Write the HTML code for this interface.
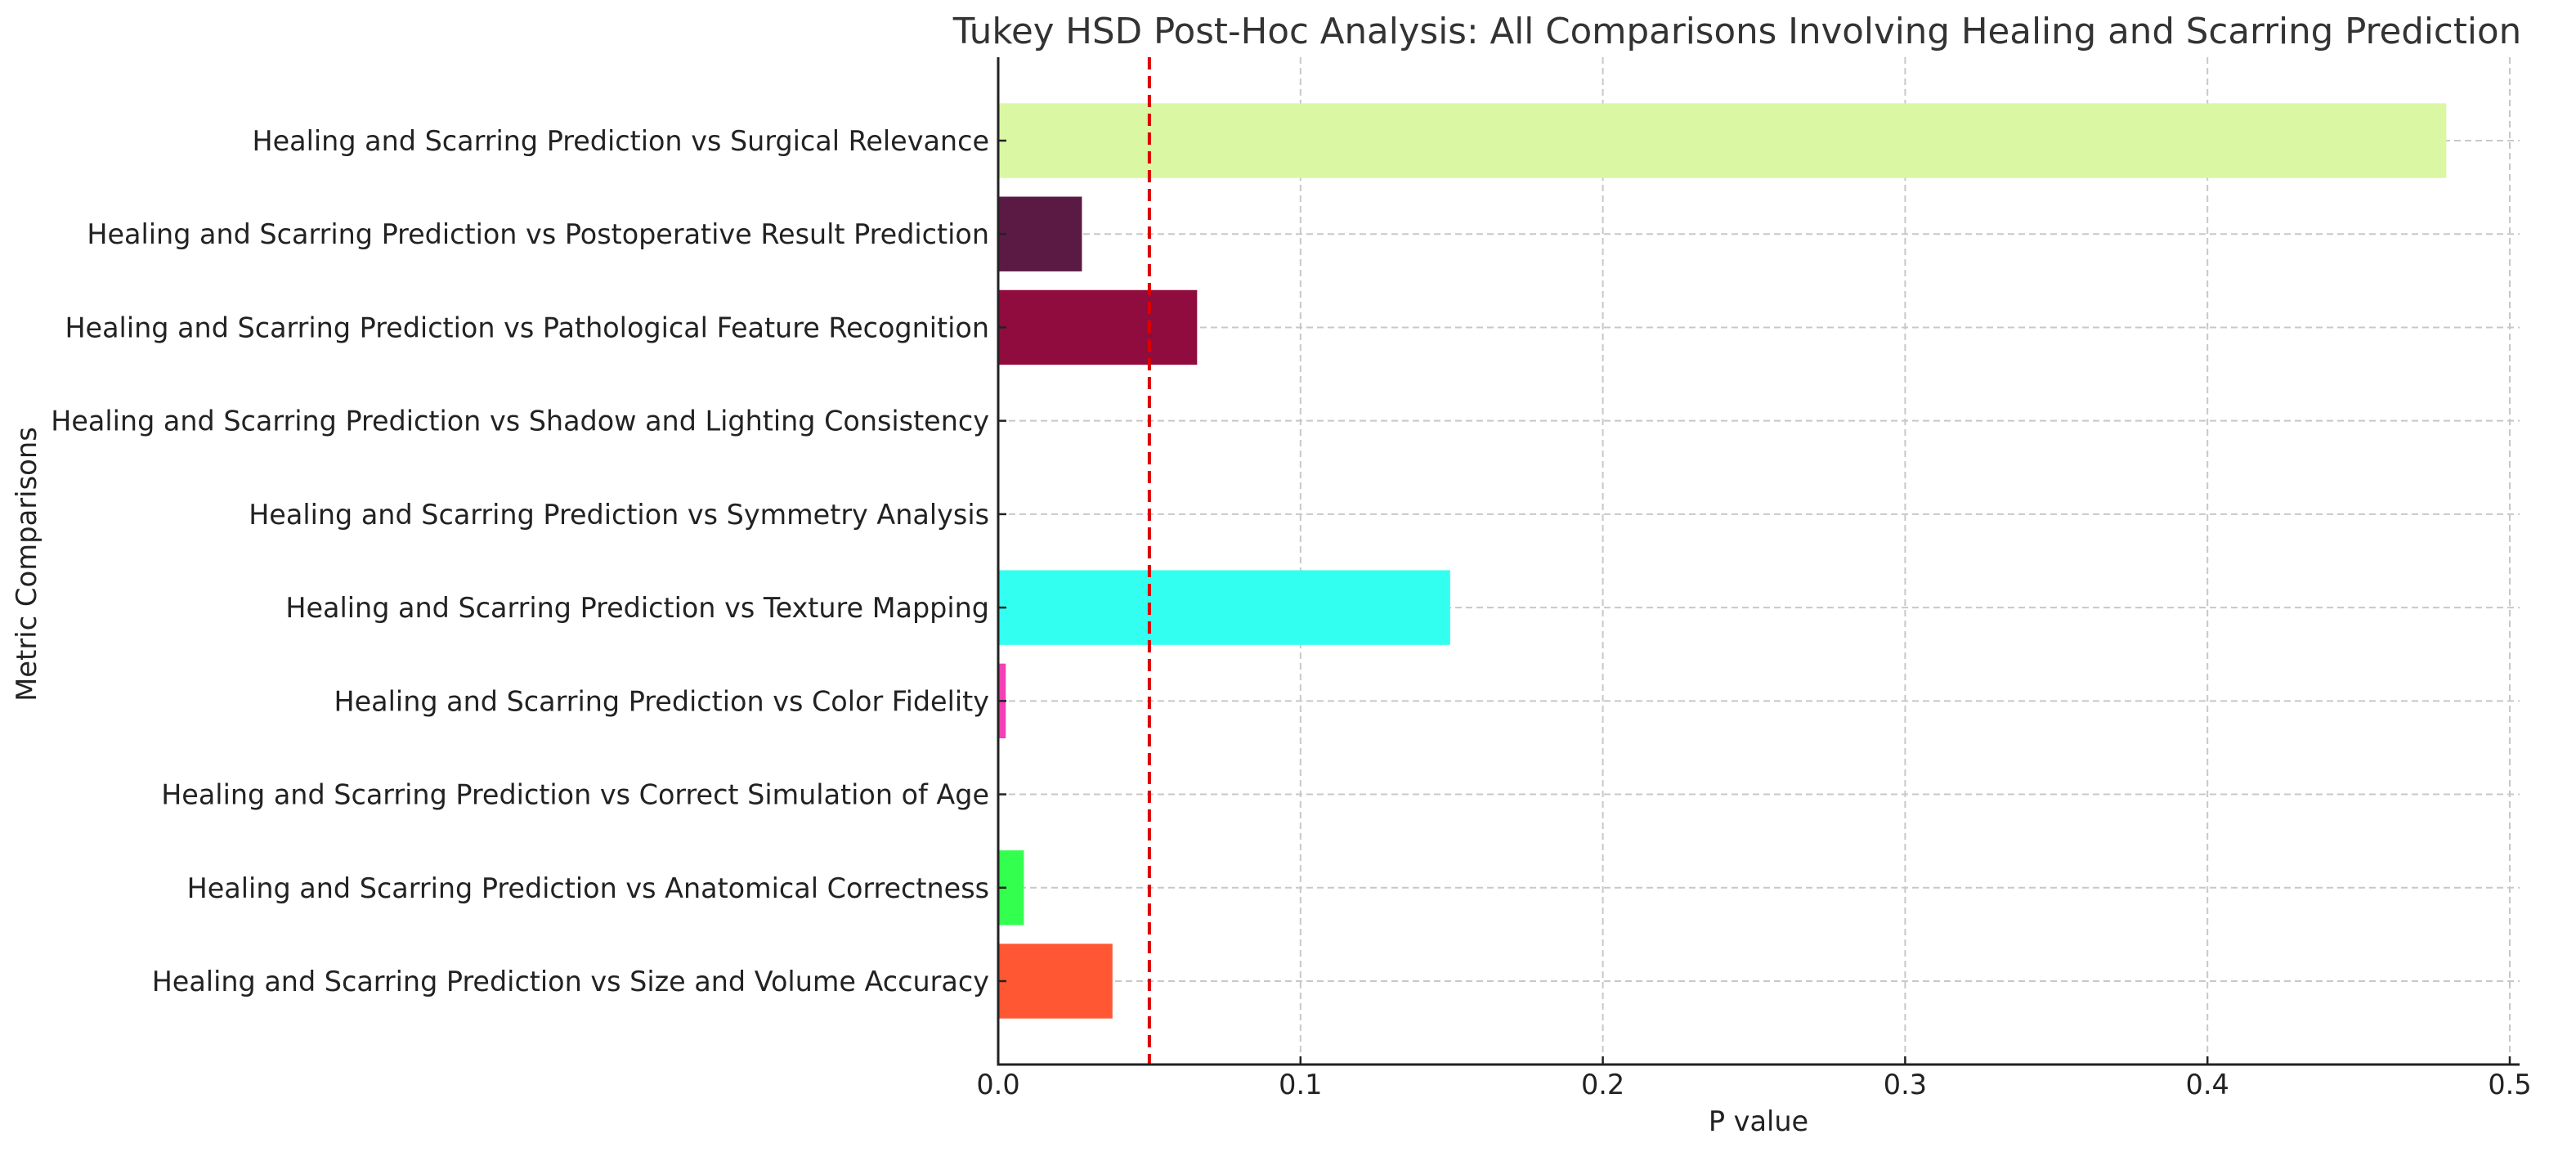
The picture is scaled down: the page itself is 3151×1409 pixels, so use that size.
<!DOCTYPE html>
<html><head><meta charset="utf-8"><style>
html,body{margin:0;padding:0;background:#fff;}
svg{display:block;font-family:"DejaVu Sans","Liberation Sans",sans-serif;}
</style></head><body>
<svg id="chart" width="3151" height="1409" viewBox="0 0 3151 1409" xmlns="http://www.w3.org/2000/svg">
<rect width="3151" height="1409" fill="#fff"/>
<text x="2125" y="53" font-size="43.5" fill="#333" text-anchor="middle">Tukey HSD Post-Hoc Analysis: All Comparisons Involving Healing and Scarring Prediction</text>
<text transform="translate(44,690) rotate(-90)" font-size="33.8" fill="#222" text-anchor="middle">Metric Comparisons</text>
<text x="2151" y="1383" font-size="33.5" fill="#222" text-anchor="middle">P value</text>
<g id="grid"></g>
<g id="bars"></g>
<g id="axes"></g>
</svg>
<script>
const categories = [
 "Healing and Scarring Prediction vs Surgical Relevance",
 "Healing and Scarring Prediction vs Postoperative Result Prediction",
 "Healing and Scarring Prediction vs Pathological Feature Recognition",
 "Healing and Scarring Prediction vs Shadow and Lighting Consistency",
 "Healing and Scarring Prediction vs Symmetry Analysis",
 "Healing and Scarring Prediction vs Texture Mapping",
 "Healing and Scarring Prediction vs Color Fidelity",
 "Healing and Scarring Prediction vs Correct Simulation of Age",
 "Healing and Scarring Prediction vs Anatomical Correctness",
 "Healing and Scarring Prediction vs Size and Volume Accuracy"
];
const pValues = [0.479, 0.0277, 0.0658, 0, 0, 0.1495, 0.0025, 0, 0.0085, 0.0378];
const barColors = ["#daf7a3","#5b1a44","#900c3f","#33fff0","#33ff57","#33fff0","#f53fb5","#ff33a8","#33ff4f","#ff5733"];
const xTicks = [0, 0.1, 0.2, 0.3, 0.4, 0.5];
const xTickLabels = ["0.0","0.1","0.2","0.3","0.4","0.5"];
const threshold = 0.05;

const NS = "http://www.w3.org/2000/svg";
const X0 = 1221, XPER = 3698, RIGHT = 3082, TOP = 70, BOTTOM = 1302;
const Y0 = 172, YSTEP = (1200 - 172) / 9, BARH = 0.8 * YSTEP;
function xs(v){ return X0 + v * XPER; }
function ys(i){ return Y0 + i * YSTEP; }
function mk(tag, attrs, parent){
  const e = document.createElementNS(NS, tag);
  for (const k in attrs) e.setAttribute(k, attrs[k]);
  parent.appendChild(e); return e;
}
const grid = document.getElementById('grid');
const bars = document.getElementById('bars');
const axes = document.getElementById('axes');

xTicks.forEach((t, i) => {
  const gl = mk('line', {x1: xs(t), x2: xs(t), y1: TOP, y2: BOTTOM, stroke: '#c8c8c8', 'stroke-width': 2, 'stroke-dasharray': '8,5'}, grid);
  
  
  const tk = mk('line', {x1: xs(t), x2: xs(t), y1: BOTTOM, y2: BOTTOM - 10, stroke: '#222', 'stroke-width': 2.5}, axes);
  
  
  const tl = mk('text', {x: xs(t), y: 1338, 'font-size': 33.5, fill: '#222', 'text-anchor': 'middle'}, axes);
  tl.textContent = xTickLabels[i];
  
  
});

categories.forEach((c, i) => {
  const y = ys(i);
  const gl = mk('line', {x1: X0, x2: RIGHT, y1: y, y2: y, stroke: '#c8c8c8', 'stroke-width': 2, 'stroke-dasharray': '8,5'}, grid);
  
  
  const b = mk('rect', {x: X0, y: y - BARH / 2, width: Math.max(0, xs(pValues[i]) - X0), height: BARH, fill: barColors[i]}, bars);
  
  
  const tk = mk('line', {x1: X0, x2: X0 + 10, y1: y, y2: y, stroke: '#222', 'stroke-width': 2.5}, axes);
  
  
  const tl = mk('text', {x: 1210, y: y + 12, 'font-size': 33.4, fill: '#222', 'text-anchor': 'end'}, axes);
  tl.textContent = c;
  
  
});

const th = mk('line', {x1: xs(threshold), x2: xs(threshold), y1: TOP, y2: BOTTOM, stroke: '#dd0000', 'stroke-width': 4, 'stroke-dasharray': '15,8'}, axes);


const ya = mk('line', {x1: X0, x2: X0, y1: TOP, y2: BOTTOM + 1.5, stroke: '#222', 'stroke-width': 3}, axes);


const xa = mk('line', {x1: X0 - 1.5, x2: RIGHT, y1: BOTTOM, y2: BOTTOM, stroke: '#222', 'stroke-width': 3}, axes);


</script>
</body></html>
